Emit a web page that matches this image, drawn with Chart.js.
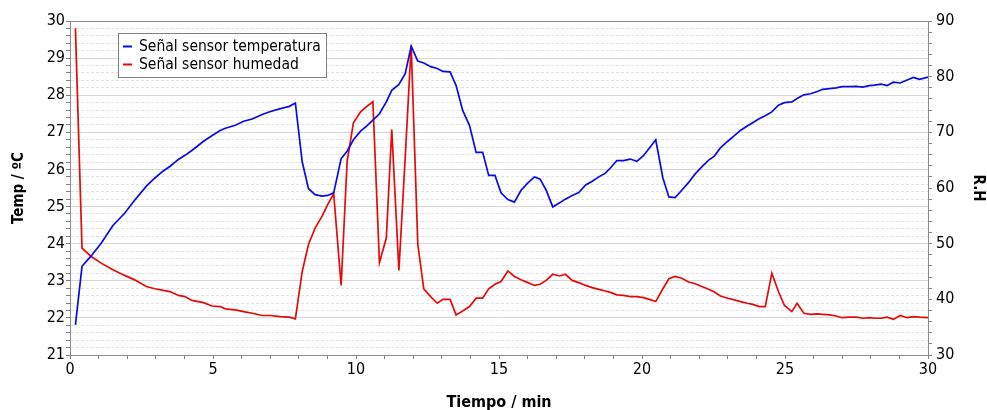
<!DOCTYPE html>
<html>
<head>
<meta charset="utf-8">
<script src="https://cdn.jsdelivr.net/npm/chart.js@4"></script>
<style>
  html, body { margin: 0; padding: 0; background: #fff; }
  #wrap { width: 987px; height: 410px; position: relative; }
</style>
</head>
<body>
<div id="wrap"><canvas id="sensorChart"></canvas></div>
<script>
// tiempo (min)
const times = [
  0.19, 0.42, 0.74, 1.09, 1.50, 1.91, 2.26, 2.67, 2.97, 3.26,
  3.49, 3.79, 4.02, 4.26, 4.67, 4.96, 5.25, 5.43, 5.78, 6.07,
  6.37, 6.72, 7.01, 7.36, 7.67, 7.88, 8.12, 8.34, 8.57, 8.81,
  9.01, 9.22, 9.48, 9.69, 9.91, 10.16, 10.39, 10.59, 10.82, 11.06,
  11.25, 11.50, 11.72, 11.93, 12.16, 12.37, 12.61, 12.84, 13.04, 13.29,
  13.50, 13.73, 13.97, 14.20, 14.43, 14.64, 14.86, 15.07, 15.31, 15.54,
  15.77, 16.01, 16.24, 16.44, 16.65, 16.88, 17.12, 17.32, 17.56, 17.79,
  18.03, 18.26, 18.49, 18.72, 18.92, 19.12, 19.35, 19.59, 19.82, 20.05,
  20.26, 20.48, 20.73, 20.94, 21.16, 21.39, 21.63, 21.86, 22.09, 22.33,
  22.53, 22.74, 23.00, 23.23, 23.44, 23.68, 23.87, 24.11, 24.31, 24.54,
  24.77, 24.98, 25.24, 25.42, 25.66, 25.89, 26.13, 26.32, 26.56, 26.79,
  27.00, 27.25, 27.49, 27.72, 27.95, 28.13, 28.36, 28.57, 28.79, 29.03,
  29.27, 29.49, 29.70, 30.00
];

// temperatura (ºC)
const tempValues = [
  21.81, 23.39, 23.67, 24.01, 24.49, 24.82, 25.17, 25.55, 25.77, 25.96,
  26.08, 26.27, 26.38, 26.51, 26.76, 26.91, 27.05, 27.11, 27.19, 27.30,
  27.36, 27.48, 27.56, 27.64, 27.70, 27.79, 26.20, 25.48, 25.32, 25.28,
  25.30, 25.37, 26.29, 26.49, 26.80, 27.03, 27.18, 27.33, 27.50, 27.82,
  28.13, 28.29, 28.58, 29.32, 28.92, 28.87, 28.77, 28.72, 28.64, 28.63,
  28.26, 27.59, 27.18, 26.46, 26.46, 25.84, 25.84, 25.37, 25.19, 25.12,
  25.44, 25.64, 25.80, 25.74, 25.44, 24.99, 25.10, 25.20, 25.30, 25.38,
  25.58, 25.68, 25.80, 25.90, 26.06, 26.24, 26.24, 26.28, 26.22, 26.37,
  26.58, 26.80, 25.77, 25.26, 25.24, 25.44, 25.65, 25.88, 26.07, 26.25,
  26.36, 26.58, 26.76, 26.91, 27.05, 27.17, 27.26, 27.37, 27.45, 27.55,
  27.73, 27.80, 27.82, 27.91, 28.01, 28.04, 28.10, 28.16, 28.18, 28.20,
  28.23, 28.23, 28.24, 28.22, 28.26, 28.27, 28.30, 28.26, 28.35, 28.33,
  28.41, 28.48, 28.43, 28.49
];

// humedad relativa
const humValues = [
  88.7, 49.2, 47.7, 46.5, 45.3, 44.3, 43.5, 42.3, 41.9, 41.6,
  41.4, 40.7, 40.5, 39.8, 39.4, 38.8, 38.7, 38.3, 38.1, 37.8,
  37.5, 37.1, 37.1, 36.9, 36.8, 36.5, 45.0, 49.9, 52.8, 54.9,
  57.0, 59.0, 42.5, 64.8, 71.7, 73.7, 74.7, 75.5, 46.6, 51.0,
  70.5, 45.2, 65.4, 85.6, 49.9, 41.9, 40.5, 39.3, 40.0, 40.0,
  37.2, 37.9, 38.7, 40.2, 40.2, 41.9, 42.7, 43.2, 45.1, 44.1,
  43.5, 43.0, 42.5, 42.7, 43.4, 44.5, 44.2, 44.5, 43.4, 43.0,
  42.5, 42.1, 41.8, 41.5, 41.2, 40.8, 40.7, 40.5, 40.5, 40.3,
  40.0, 39.6, 41.9, 43.7, 44.1, 43.8, 43.1, 42.8, 42.3, 41.8,
  41.3, 40.6, 40.2, 39.9, 39.6, 39.3, 39.1, 38.7, 38.7, 44.7,
  41.4, 38.9, 37.8, 39.3, 37.5, 37.3, 37.4, 37.3, 37.2, 37.0,
  36.7, 36.8, 36.8, 36.6, 36.7, 36.6, 36.6, 36.8, 36.4, 37.1,
  36.7, 36.9, 36.8, 36.7
];

const seriesLabels = ['Señal sensor temperatura', 'Señal sensor humedad'];

// ejes: rango, paso menor y paso de etiqueta
const xRange = [0, 30], xMinor = 1, xMajor = 5;
const tempRange = [21, 30], tempMinor = 0.2, tempMajor = 1;
const humRange = [30, 90], humMinor = 2, humMajor = 10;

const isMajor = (v, step) => Math.abs(v / step - Math.round(v / step)) < 1e-6;

const fontStack = "Tahoma, 'DejaVu Sans Condensed', 'DejaVu Sans', sans-serif";
Chart.defaults.font.family = fontStack;
Chart.defaults.color = '#000';

// frame around the plot + legend box inside it
const framePlugin = {
  id: 'frameLegend',
  afterDraw(chart) {
    const {ctx, chartArea: a} = chart;
    ctx.save();
    ctx.strokeStyle = '#8c8c8c';
    ctx.lineWidth = 1;
    ctx.strokeRect(Math.round(a.left) + 0.5, Math.round(a.top) + 0.5,
      Math.round(a.right - a.left), Math.round(a.bottom - a.top));

    const bx = a.left + 48, by = a.top + 12, bw = 208, bh = 44;
    ctx.fillStyle = '#fff';
    ctx.fillRect(bx, by, bw, bh);
    ctx.strokeStyle = '#808080';
    ctx.strokeRect(Math.round(bx) + 0.5, Math.round(by) + 0.5, bw, bh);
    ctx.font = '15.5px ' + fontStack;
    ctx.textBaseline = 'middle';
    chart.data.datasets.forEach((ds, i) => {
      const cy = by + 13.5 + i * 18;
      ctx.strokeStyle = ds.borderColor;
      ctx.lineWidth = 2;
      ctx.beginPath();
      ctx.moveTo(bx + 5, cy);
      ctx.lineTo(bx + 14, cy);
      ctx.stroke();
      ctx.fillStyle = '#000';
      ctx.fillText(ds.label, bx + 21, cy);
    });
    ctx.restore();
  }
};

function initializeChart() {
  const ctx = document.getElementById('sensorChart').getContext('2d');

  new Chart(ctx, {
    type: 'line',
    data: {
      datasets: [
        {
          label: seriesLabels[0],
          data: times.map((t, i) => ({x: t, y: tempValues[i]})),
          borderColor: '#0a0ae6',
          borderWidth: 1.7,
          pointRadius: 0,
          tension: 0,
          yAxisID: 'y'
        },
        {
          label: seriesLabels[1],
          data: times.map((t, i) => ({x: t, y: humValues[i]})),
          borderColor: '#e60a0a',
          borderWidth: 1.7,
          pointRadius: 0,
          tension: 0,
          yAxisID: 'y1'
        }
      ]
    },
    options: {
      responsive: true,
      maintainAspectRatio: false,
      animation: false,
      layout: { padding: { top: 21, right: 0, bottom: 0, left: 0 } },
      plugins: {
        legend: { display: false },
        tooltip: { enabled: false }
      },
      scales: {
        x: {
          type: 'linear',
          min: xRange[0],
          max: xRange[1],
          afterFit: s => { s.height = 55; },
          ticks: {
            stepSize: xMinor,
            autoSkip: false,
            maxRotation: 0,
            padding: 1,
            font: { size: 16 },
            callback: v => isMajor(v, xMajor) ? v : ''
          },
          grid: {
            drawOnChartArea: false,
            tickLength: 4,
            tickColor: '#808080'
          },
          border: { color: '#8c8c8c' },
          title: {
            display: true,
            text: 'Tiempo / min',
            font: { size: 16, weight: 'bold' },
            padding: { top: 0, bottom: -2 }
          }
        },
        y: {
          position: 'left',
          min: tempRange[0],
          max: tempRange[1],
          afterFit: s => { s.width = 70; },
          ticks: {
            stepSize: tempMinor,
            autoSkip: false,
            padding: 1,
            font: { size: 16 },
            callback: v => isMajor(v, tempMajor) ? v : ''
          },
          grid: {
            color: c => (c.tick && isMajor(c.tick.value, tempMajor)) ? '#d6d6d6' : '#e2e2e2',
            tickLength: 4,
            tickColor: '#808080'
          },
          border: {
            color: '#8c8c8c',
            dash: c => (c.tick && !isMajor(c.tick.value, tempMajor)) ? [3, 2] : []
          },
          title: {
            display: true,
            text: 'Temp / ºC',
            font: { size: 15, weight: 'bold' },
            padding: { top: 10, bottom: 0 }
          }
        },
        y1: {
          position: 'right',
          min: humRange[0],
          max: humRange[1],
          afterFit: s => { s.width = 59; },
          ticks: {
            stepSize: humMinor,
            autoSkip: false,
            padding: 4,
            font: { size: 16 },
            callback: v => isMajor(v, humMajor) ? v : ''
          },
          grid: {
            drawOnChartArea: false,
            tickLength: 4,
            tickColor: '#808080'
          },
          border: { color: '#8c8c8c' },
          title: {
            display: true,
            text: 'R.H',
            font: { size: 15, weight: 'bold' },
            padding: { top: 0, bottom: 0 }
          }
        }
      }
    },
    plugins: [framePlugin]
  });
}

initializeChart();
</script>
</body>
</html>
